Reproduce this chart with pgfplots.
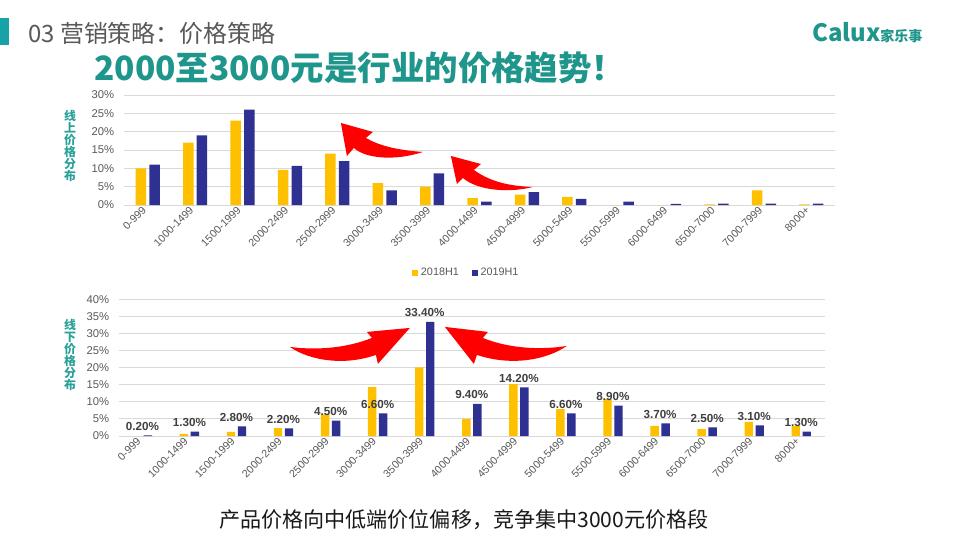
\documentclass[border=0pt]{standalone}
\usepackage{pgfplots}
\pgfplotsset{compat=1.18}
\usepackage{pgfplotstable}
\usepackage{fontspec}
\setmainfont{Liberation Sans}
\newfontfamily\cjk{Noto Sans CJK SC}

\definecolor{ylw}{HTML}{FFC000}
\definecolor{navy}{HTML}{2F3192}
\definecolor{teal1}{HTML}{1F968B}
\definecolor{tealbar}{HTML}{17A2A8}
\definecolor{tealtxt}{HTML}{2AA198}
\definecolor{gtxt}{HTML}{595959}
\definecolor{dtxt}{HTML}{404040}
\definecolor{gridc}{HTML}{D9D9D9}

% online share (%)
\pgfplotstableread{
x  a2018 a2019
0  10   11
1  17   19
2  23   26
3  9.6  10.7
4  14   12
5  6    4
6  5    8.6
7  1.9  0.9
8  2.8  3.5
9  2.2  1.7
10 0    0.9
11 0    0.3
12 0.2  0.4
13 4.0  0.4
14 0.2  0.4
}\online

% offline share (%)
\pgfplotstableread{
x  a2018 a2019
0  0    0.2
1  0.6  1.3
2  1.2  2.8
3  2.3  2.2
4  6.3  4.5
5  14.3 6.6
6  20.1 33.4
7  5.0  9.4
8  15.2 14.2
9  7.9  6.6
10 10.8 8.9
11 3.0  3.7
12 2.0  2.5
13 4.1  3.1
14 2.9  1.3
}\offline

\pgfplotsset{
  pricebars/.style={
    scale only axis,
    axis lines=left,
    axis line style={draw=none},
    major tick length=0pt,
    xmin=-0.5, xmax=14.5, ymin=0,
    xtick={0,...,14},
    xticklabels={0-999,1000-1499,1500-1999,2000-2499,2500-2999,3000-3499,3500-3999,4000-4499,4500-4999,5000-5499,5500-5999,6000-6499,6500-7000,7000-7999,8000+},
    xticklabel style={rotate=45, anchor=east, font=\fontsize{7.6}{9}\selectfont, text=gtxt},
    ytick distance=5,
    yticklabel={\pgfmathprintnumber{\tick}\%},
    yticklabel style={font=\fontsize{8}{9}\selectfont, text=gtxt, xshift=-0.12cm},
    /pgf/number format/assume math mode=true,
    ymajorgrids,
    grid style={draw=gridc, line width=0.6pt},
  },
}

\begin{document}
\begin{tikzpicture}
\fill[white] (0,0) rectangle (24cm,13.5cm);

% top chart: online
\begin{axis}[pricebars,
  at={(3.1cm,8.375cm)}, width=17.775cm, height=2.75cm,
  ymax=30,
  ybar=0.08cm, bar width=0.2625cm,
  legend style={at={(0.482,-0.618)}, anchor=center, draw=none, fill=none,
    legend columns=2, font=\fontsize{7.7}{9}\selectfont, text=gtxt,
    /tikz/every even column/.append style={column sep=0.25cm}},
  legend image code/.code={\fill[#1] (0cm,-0.075cm) rectangle (0.15cm,0.075cm);},
]
\addplot[draw=none, fill=ylw] table[x=x, y=a2018] {\online};
\addlegendentry{2018H1}
\addplot[draw=none, fill=navy] table[x=x, y=a2019] {\online};
\addlegendentry{2019H1}
\end{axis}

% bottom chart: offline
\begin{axis}[pricebars,
  at={(2.97cm,2.6cm)}, width=17.65cm, height=3.418cm,
  ymax=40,
  ybar=0.065cm, bar width=0.21cm,
]
\addplot[draw=none, fill=ylw] table[x=x, y=a2018] {\offline};
\addplot[draw=none, fill=navy,
  nodes near coords={\pgfmathprintnumber[fixed, fixed zerofill, precision=2]{\pgfplotspointmeta}\%},
  every node near coord/.append style={font=\bfseries\fontsize{8.3}{10}\selectfont, text=dtxt,
    xshift=-0.1375cm, yshift=0.07cm, anchor=south, inner sep=1.5pt},
] table[x=x, y=a2019] {\offline};
\end{axis}

% page decorations in pixel units
\begin{scope}[x=0.025cm, y=-0.025cm, shift={(0,13.5cm)}]
  \fill[tealbar] (0,18) rectangle (9,45);
  \node[anchor=west, inner sep=0, text=gtxt, font=\cjk\fontsize{17}{20}\selectfont] at (28,33) {03 营销策略：价格策略};
  \node[anchor=west, inner sep=0, text=teal1, font=\cjk\bfseries\fontsize{23.8}{26}\selectfont] at (94,68) {2000至3000元是行业的价格趋势！};
  \node[anchor=west, inner sep=0, text=teal1] at (812,33) {{\cjk\bfseries\fontsize{17}{20}\selectfont Calux}{\cjk\bfseries\fontsize{10}{12}\selectfont 家乐事}};
  \node[align=center, text=tealtxt, font=\cjk\bfseries\fontsize{8.5}{8.6}\selectfont, inner sep=0] at (70,146) {线\\上\\价\\格\\分\\布};
  \node[align=center, text=tealtxt, font=\cjk\bfseries\fontsize{8.5}{8.6}\selectfont, inner sep=0] at (70,355) {线\\下\\价\\格\\分\\布};
  \node[text=black!90, font=\cjk\fontsize{15}{18}\selectfont, inner sep=0] at (464,520) {产品价格向中低端价位偏移，竞争集中3000元价格段};
  % red curved arrows
  \fill[red] (423,152) .. controls (395,150) and (378,145) .. (366,138) -- (373,132) -- (341,123) -- (347,156) -- (354,148) .. controls (366,159) and (396,161) .. (423,152) -- cycle;
  \fill[red] (533,187) .. controls (505,186) and (488,180) .. (474,170) -- (481,164) -- (451,156) -- (457,184) -- (463,178) .. controls (478,191) and (510,193) .. (533,187) -- cycle;
  \fill[red] (290,347) .. controls (320,351) and (350,347) .. (372,338) -- (367,332) -- (410,328) -- (378,364) -- (376,355) .. controls (345,366) and (310,361) .. (290,347) -- cycle;
  \fill[red] (567,346) .. controls (535,351) and (505,347) .. (483,338) -- (488,332) -- (445,327) -- (474,364) -- (477,355) .. controls (510,366) and (545,361) .. (567,346) -- cycle;
\end{scope}
\end{tikzpicture}
\end{document}
